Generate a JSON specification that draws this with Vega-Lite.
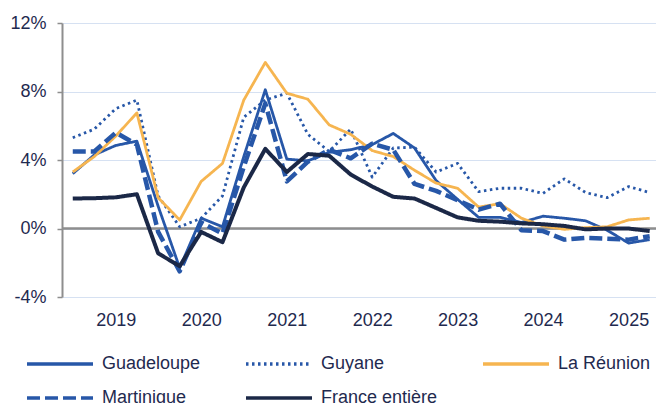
{
  "$schema": "https://vega.github.io/schema/vega-lite/v6.json",
  "width": 594,
  "height": 274,
  "autosize": {"type": "none"},
  "padding": {"left": 62, "top": 23, "right": 0, "bottom": 106},
  "background": "white",
  "config": {"font": "Liberation Sans", "view": {"stroke": null}},
  "data": {"values": [
    {"d": "2018-07-01", "Guadeloupe": 3.2, "Guyane": 5.3, "La Réunion": 3.3, "Martinique": 4.5, "France entière": 1.75},
    {"d": "2018-10-01", "Guadeloupe": 4.3, "Guyane": 5.8, "La Réunion": 4.2, "Martinique": 4.5, "France entière": 1.77},
    {"d": "2019-01-01", "Guadeloupe": 4.85, "Guyane": 7.0, "La Réunion": 5.4, "Martinique": 5.6, "France entière": 1.82},
    {"d": "2019-04-01", "Guadeloupe": 5.1, "Guyane": 7.5, "La Réunion": 6.75, "Martinique": 4.9, "France entière": 2.0},
    {"d": "2019-07-01", "Guadeloupe": 1.3, "Guyane": 1.9, "La Réunion": 1.8, "Martinique": -0.2, "France entière": -1.45},
    {"d": "2019-10-01", "Guadeloupe": -2.3, "Guyane": 0.1, "La Réunion": 0.5, "Martinique": -2.5, "France entière": -2.2},
    {"d": "2020-01-01", "Guadeloupe": 0.6, "Guyane": 0.6, "La Réunion": 2.75, "Martinique": 0.35, "France entière": -0.2},
    {"d": "2020-04-01", "Guadeloupe": 0.1, "Guyane": 1.9, "La Réunion": 3.8, "Martinique": -0.3, "France entière": -0.8},
    {"d": "2020-07-01", "Guadeloupe": 4.2, "Guyane": 6.5, "La Réunion": 7.5, "Martinique": 3.6, "France entière": 2.4},
    {"d": "2020-10-01", "Guadeloupe": 8.1, "Guyane": 7.5, "La Réunion": 9.7, "Martinique": 7.3, "France entière": 4.65},
    {"d": "2021-01-01", "Guadeloupe": 4.05, "Guyane": 7.9, "La Réunion": 7.9, "Martinique": 2.75, "France entière": 3.3},
    {"d": "2021-04-01", "Guadeloupe": 3.95, "Guyane": 5.5, "La Réunion": 7.55, "Martinique": 3.9, "France entière": 4.35},
    {"d": "2021-07-01", "Guadeloupe": 4.45, "Guyane": 4.5, "La Réunion": 6.05, "Martinique": 4.6, "France entière": 4.25},
    {"d": "2021-10-01", "Guadeloupe": 4.6, "Guyane": 5.8, "La Réunion": 5.5, "Martinique": 4.1, "France entière": 3.15},
    {"d": "2022-01-01", "Guadeloupe": 4.9, "Guyane": 3.0, "La Réunion": 4.55, "Martinique": 4.95, "France entière": 2.45},
    {"d": "2022-04-01", "Guadeloupe": 5.55, "Guyane": 4.7, "La Réunion": 4.2, "Martinique": 4.6, "France entière": 1.85},
    {"d": "2022-07-01", "Guadeloupe": 4.7, "Guyane": 4.75, "La Réunion": 3.4, "Martinique": 2.6, "France entière": 1.75},
    {"d": "2022-10-01", "Guadeloupe": 2.8, "Guyane": 3.3, "La Réunion": 2.65, "Martinique": 2.2, "France entière": 1.2},
    {"d": "2023-01-01", "Guadeloupe": 1.7, "Guyane": 3.8, "La Réunion": 2.35, "Martinique": 1.65, "France entière": 0.65},
    {"d": "2023-04-01", "Guadeloupe": 0.65, "Guyane": 2.15, "La Réunion": 1.25, "Martinique": 1.1, "France entière": 0.45},
    {"d": "2023-07-01", "Guadeloupe": 0.65, "Guyane": 2.35, "La Réunion": 1.45, "Martinique": 1.45, "France entière": 0.4},
    {"d": "2023-10-01", "Guadeloupe": 0.35, "Guyane": 2.35, "La Réunion": 0.6, "Martinique": -0.1, "France entière": 0.3},
    {"d": "2024-01-01", "Guadeloupe": 0.72, "Guyane": 2.05, "La Réunion": 0.15, "Martinique": -0.15, "France entière": 0.25},
    {"d": "2024-04-01", "Guadeloupe": 0.6, "Guyane": 2.9, "La Réunion": -0.05, "Martinique": -0.65, "France entière": 0.15},
    {"d": "2024-07-01", "Guadeloupe": 0.45, "Guyane": 2.1, "La Réunion": 0.05, "Martinique": -0.55, "France entière": -0.05},
    {"d": "2024-10-01", "Guadeloupe": -0.1, "Guyane": 1.8, "La Réunion": 0.1, "Martinique": -0.6, "France entière": 0.0},
    {"d": "2025-01-01", "Guadeloupe": -0.85, "Guyane": 2.45, "La Réunion": 0.5, "Martinique": -0.65, "France entière": 0.0},
    {"d": "2025-04-01", "Guadeloupe": -0.65, "Guyane": 2.1, "La Réunion": 0.6, "Martinique": -0.45, "France entière": -0.15}
  ]},
  "layer": [
    {
      "data": {"values": [{"z": 0}]},
      "mark": {"type": "rule", "color": "#8E8E8E", "strokeWidth": 2.5},
      "encoding": {"y": {"field": "z", "type": "quantitative"}}
    },
    {
      "transform": [{"fold": ["Guadeloupe", "Guyane", "La Réunion", "Martinique", "France entière"], "as": ["s", "v"]}],
      "mark": {"type": "line", "strokeJoin": "round"},
      "encoding": {
        "x": {
          "field": "d", "type": "temporal",
          "scale": {"domain": [{"year": 2018, "month": 5, "date": 16}, {"year": 2025, "month": 4, "date": 28}], "nice": false},
          "axis": {"title": null, "format": "%Y", "tickCount": {"interval": "year", "step": 1}, "domain": false, "ticks": false, "grid": false, "labelFontSize": 18, "labelPadding": 14, "labelColor": "#1F2A4F", "labelFont": "Liberation Sans"}
        },
        "y": {
          "field": "v", "type": "quantitative",
          "scale": {"domain": [-4, 12], "nice": false, "zero": false},
          "axis": {"title": null, "values": [-4, 0, 4, 8, 12], "labelExpr": "datum.value + '%'", "grid": true, "gridColor": "#D6E1F2", "gridWidth": 1, "domainColor": "#8E8E8E", "domainWidth": 2, "tickColor": "#8E8E8E", "tickWidth": 1.5, "tickSize": 5, "labelPadding": 11, "labelFontSize": 18, "labelColor": "#1F2A4F", "labelFont": "Liberation Sans"}
        },
        "color": {
          "field": "s", "type": "nominal",
          "scale": {"domain": ["Guadeloupe", "Guyane", "La Réunion", "Martinique", "France entière"], "range": ["#2757A8", "#2757A8", "#F6B550", "#2757A8", "#1B2847"]},
          "legend": {"orient": "none", "legendX": -11, "legendY": 332, "direction": "horizontal", "columns": 3, "title": null, "symbolType": "M-6,0H6", "symbolSize": 121, "symbolStrokeWidth": 3.5, "labelFontSize": 18, "labelColor": "#1F2A4F", "labelFont": "Liberation Sans", "labelOffset": 33, "columnPadding": 38, "rowPadding": 16, "labelLimit": 300, "padding": 0}
        },
        "strokeDash": {
          "field": "s", "type": "nominal",
          "scale": {"domain": ["Guadeloupe", "Guyane", "La Réunion", "Martinique", "France entière"], "range": [[1, 0], [2.5, 3.5], [1, 0], [13, 5], [1, 0]]}
        },
        "strokeWidth": {
          "condition": [
            {"test": "datum.s === 'Martinique'", "value": 4.5},
            {"test": "datum.s === 'France entière'", "value": 4}
          ],
          "value": 2.8
        }
      }
    }
  ]
}
